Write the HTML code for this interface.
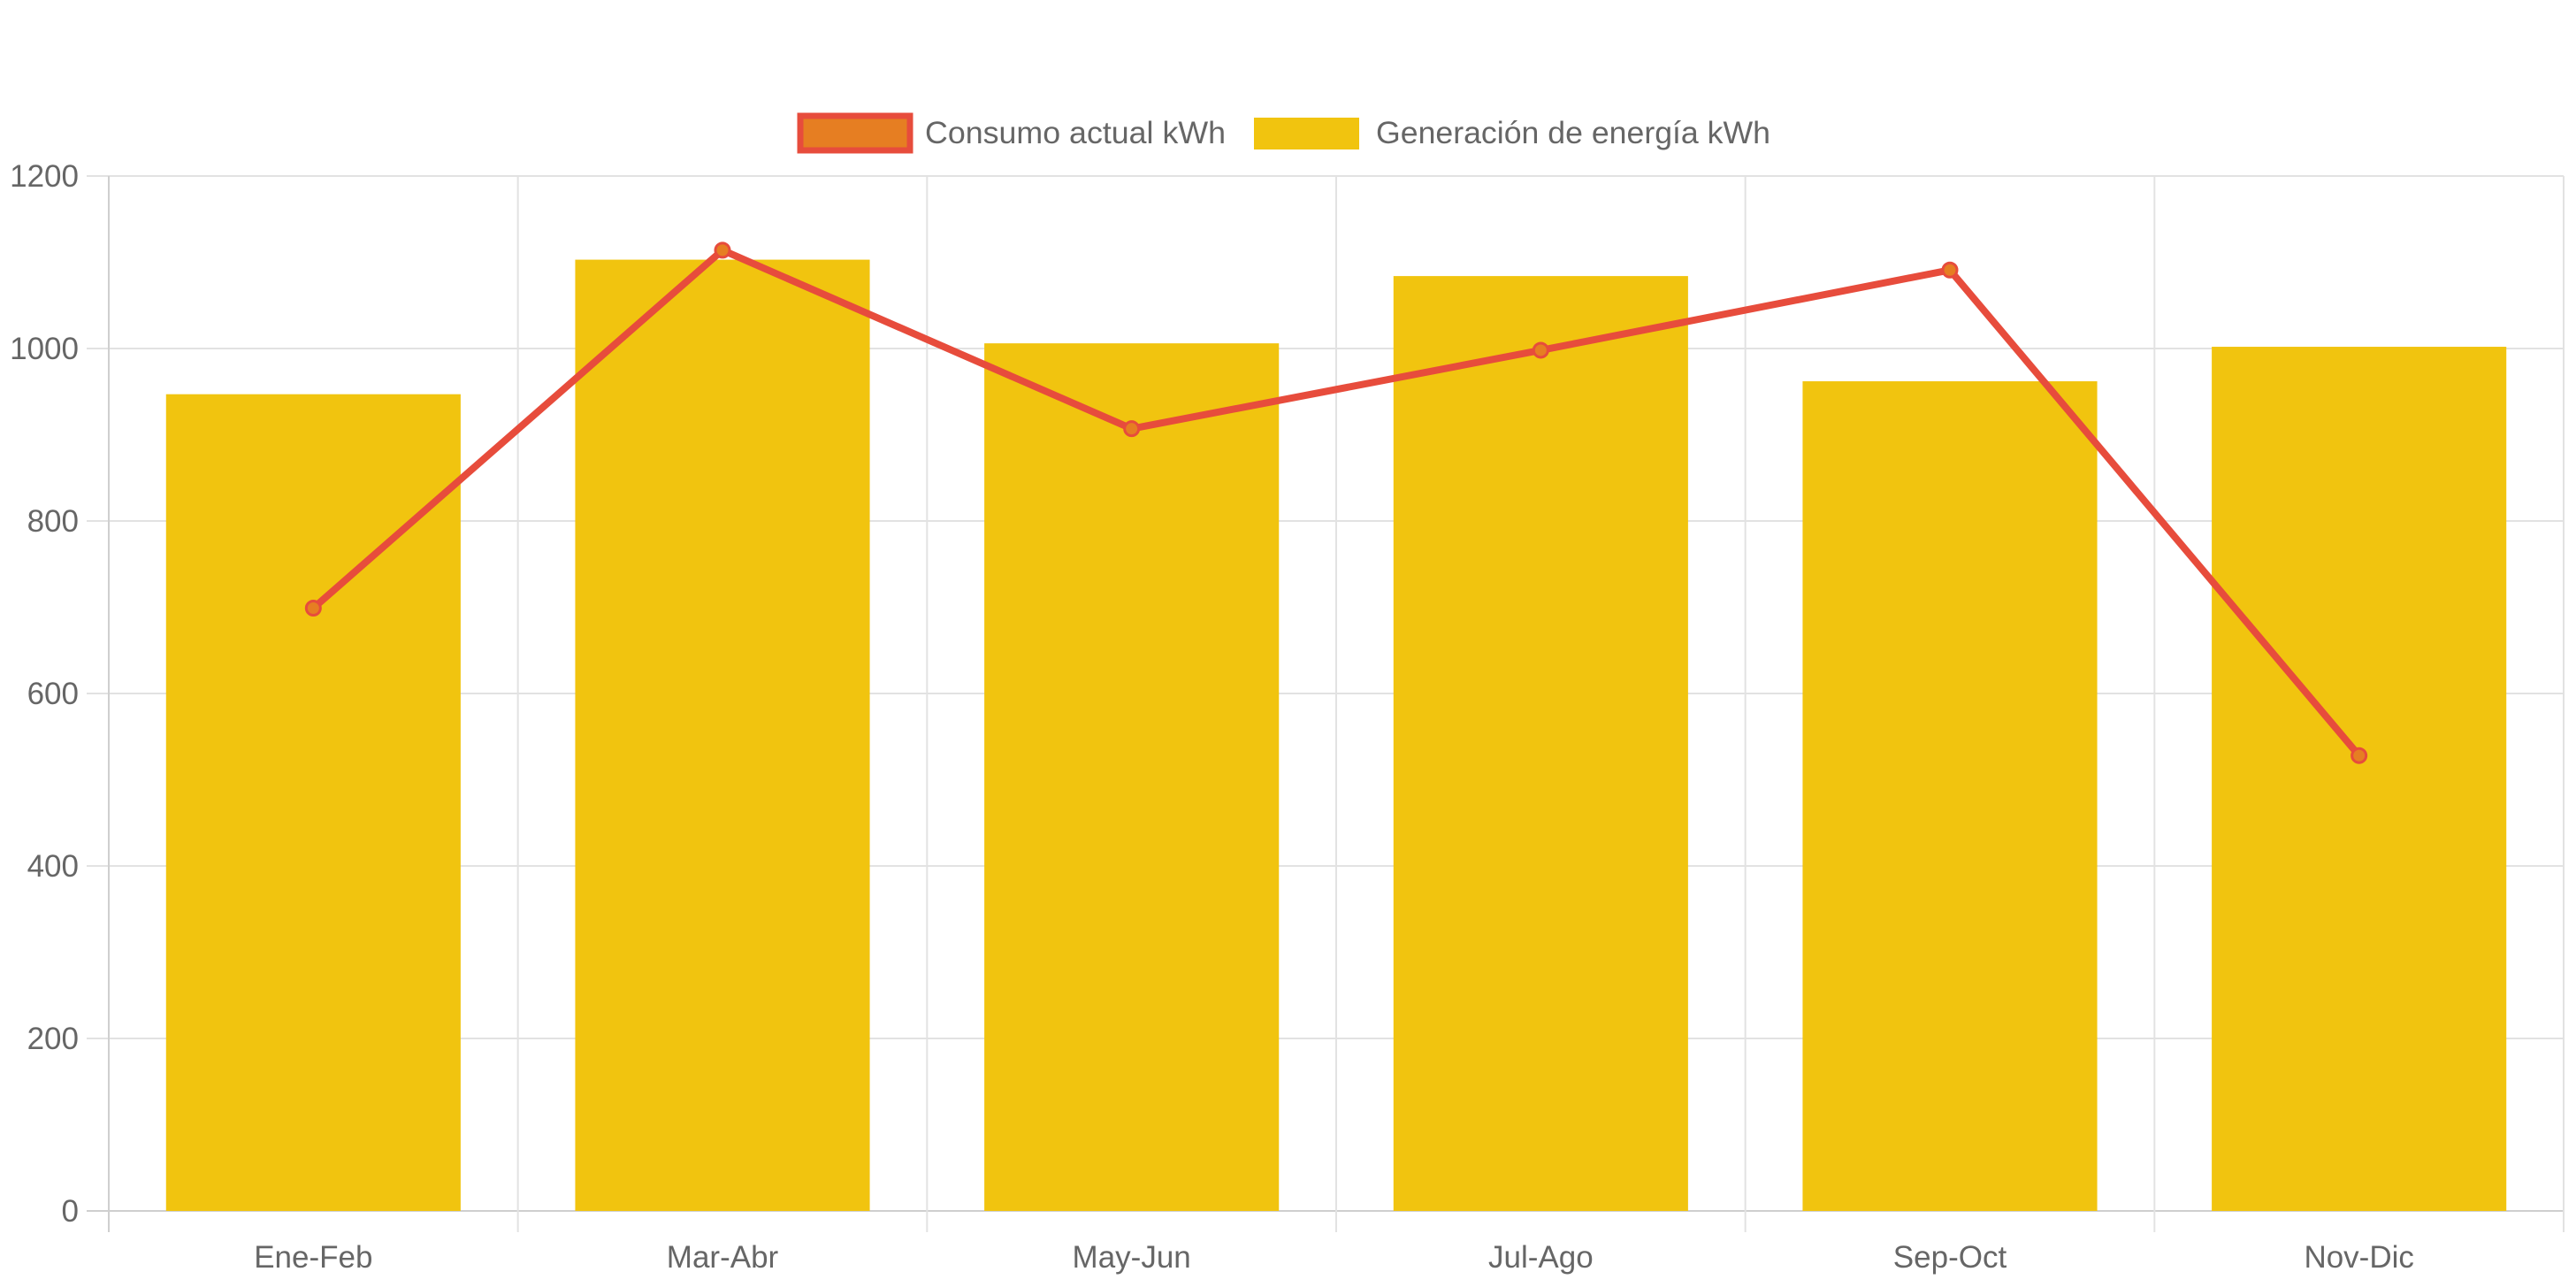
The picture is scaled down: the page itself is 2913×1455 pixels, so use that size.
<!DOCTYPE html>
<html><head><meta charset="utf-8"><style>
html,body{margin:0;padding:0;background:#fff;width:2913px;height:1455px;overflow:hidden}
svg text{font-family:"Liberation Sans",Arial,sans-serif;fill:#666}
</style></head><body>
<svg id="chart" width="2913" height="1455" viewBox="0 0 2913 1455" xmlns="http://www.w3.org/2000/svg">
<g id="legend">
 <g>
  <rect x="905" y="131" width="124" height="39" fill="#e67e22" stroke="#e74c3c" stroke-width="7"/>
  <text x="1046" y="162" font-size="35" textLength="340" lengthAdjust="spacingAndGlyphs">Consumo actual kWh</text>
 </g>
 <g>
  <rect x="1418" y="133" width="119" height="36" fill="#f1c40f"/>
  <text x="1556" y="162" font-size="35" textLength="446" lengthAdjust="spacingAndGlyphs">Generación de energía kWh</text>
 </g>
</g>
<g id="grid"></g>
<g id="bars"></g>
<g id="line"></g>
<g id="axes"></g>
</svg>
<script>
const categories = ["Ene-Feb","Mar-Abr","May-Jun","Jul-Ago","Sep-Oct","Nov-Dic"];
const generacion = [947,1103,1006,1084,962,1002];
const consumo = [699,1114,907,998,1091,528];
const yTicks = [0,200,400,600,800,1000,1200];

const NS="http://www.w3.org/2000/svg";
const L=123, R=2899, T=199, B=1369, yMax=1200;
const cw=(R-L)/categories.length;
const xC=i=>L+cw*(i+0.5);
const y=v=>B-(v/yMax)*(B-T);
function mk(tag,attrs,parent){const e=document.createElementNS(NS,tag);for(const k in attrs)e.setAttribute(k,attrs[k]);parent.appendChild(e);return e;}
const grid=document.getElementById('grid'),bars=document.getElementById('bars'),line=document.getElementById('line'),axes=document.getElementById('axes');

yTicks.forEach(t=>{
 const g=mk('line',{x1:L-25,x2:R,y1:y(t),y2:y(t),stroke:t===0?'#cfcfcf':'#e2e2e2','stroke-width':2},grid);
 
 
 const tx=mk('text',{x:89,y:y(t)+12,'font-size':35,'text-anchor':'end'},axes);
 tx.textContent=t;
 
 
});
for(let i=0;i<=categories.length;i++){
 const x=L+cw*i;
 const g=mk('line',{x1:x,x2:x,y1:T,y2:B+24,stroke:i===0?'#cfcfcf':'#e2e2e2','stroke-width':2},grid);
 
 
}
categories.forEach((c,i)=>{
 const bw=cw*0.72;
 const r=mk('rect',{x:xC(i)-bw/2,y:y(generacion[i]),width:bw,height:B-y(generacion[i]),fill:'#f1c40f'},bars);
 
 
 const tx=mk('text',{x:xC(i),y:1433,'font-size':35,'text-anchor':'middle'},axes);
 tx.textContent=c;
 
 
});
const pts=consumo.map((v,i)=>xC(i)+','+y(v)).join(' ');
const pl=mk('polyline',{points:pts,fill:'none',stroke:'#e74c3c','stroke-width':8,'stroke-linejoin':'round'},line);


consumo.forEach((v,i)=>{
 const p=mk('circle',{cx:xC(i),cy:y(v),r:8,fill:'#e67e22',stroke:'#e74c3c','stroke-width':3},line);
 
 
});
</script>
</body></html>
